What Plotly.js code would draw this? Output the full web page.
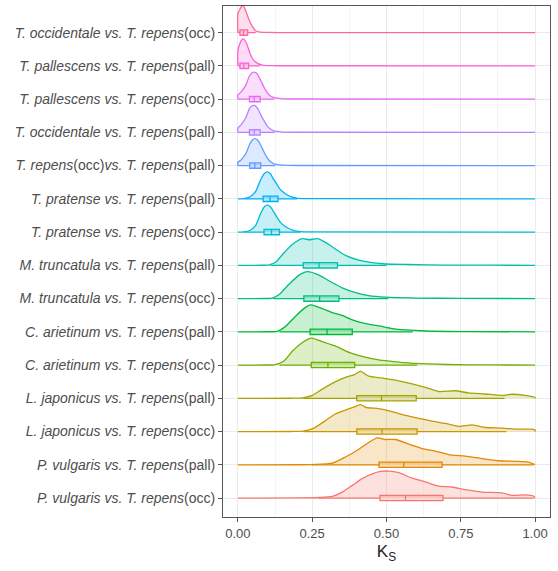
<!DOCTYPE html>
<html>
<head>
<meta charset="utf-8">
<script src="https://cdn.plot.ly/plotly-3.0.1.min.js"></script>
<style>html,body{margin:0;padding:0;background:#fff;}#chart{width:558px;height:571px;}</style>
</head>
<body>
<div id="chart"></div>
<script>
// Categories, bottom (y=1) to top (y=15)
const categories = [
  "<i>P. vulgaris vs. T. repens</i>(occ)",
  "<i>P. vulgaris vs. T. repens</i>(pall)",
  "<i>L. japonicus vs. T. repens</i>(occ)",
  "<i>L. japonicus vs. T. repens</i>(pall)",
  "<i>C. arietinum vs. T. repens</i>(occ)",
  "<i>C. arietinum vs. T. repens</i>(pall)",
  "<i>M. truncatula vs. T. repens</i>(occ)",
  "<i>M. truncatula vs. T. repens</i>(pall)",
  "<i>T. pratense vs. T. repens</i>(occ)",
  "<i>T. pratense vs. T. repens</i>(pall)",
  "<i>T. repens</i>(occ)<i>vs. T. repens</i>(pall)",
  "<i>T. occidentale vs. T. repens</i>(pall)",
  "<i>T. pallescens vs. T. repens</i>(occ)",
  "<i>T. pallescens vs. T. repens</i>(pall)",
  "<i>T. occidentale vs. T. repens</i>(occ)"
];

const colors = ["#F8766D","#E58700","#C99800","#A3A500","#6BB100","#00BA38","#00BF7D","#00C0AF","#00BCD8","#00B0F6","#619CFF","#B983FF","#E76BF3","#FD61D1","#FF67A4"];

// Density curves (Ks grid and relative density), bottom to top
const ks1 = [0,0.2,0.273,0.318,0.351,0.385,0.418,0.452,0.48,0.508,0.541,0.586,0.631,0.676,0.72,0.765,0.821,0.888,0.922,0.966,0.995,1];
const dens1 = [0,0.003,0.02,0.06,0.22,0.47,0.72,0.9,0.99,1,0.94,0.74,0.6,0.44,0.41,0.31,0.22,0.19,0.1,0.12,0.07,0];
const ks2 = [0,0.2,0.251,0.318,0.362,0.407,0.44,0.469,0.497,0.53,0.575,0.62,0.664,0.709,0.765,0.821,0.877,0.933,0.978,0.995,1];
const dens2 = [0,0.002,0.01,0.06,0.29,0.58,0.83,1,0.94,0.94,0.77,0.6,0.51,0.38,0.32,0.23,0.15,0.13,0.1,0.03,0];
const ks3 = [0,0.18,0.22,0.256,0.29,0.329,0.374,0.39,0.413,0.43,0.474,0.519,0.564,0.608,0.653,0.698,0.743,0.788,0.832,0.888,0.944,0.989,1,1];
const dens3 = [0,0.003,0.02,0.13,0.37,0.66,0.85,0.91,1,0.9,0.85,0.74,0.6,0.49,0.39,0.3,0.19,0.25,0.15,0.13,0.09,0.09,0.05,0];
const ks4 = [0,0.18,0.217,0.251,0.284,0.329,0.362,0.39,0.413,0.44,0.486,0.541,0.586,0.631,0.676,0.732,0.776,0.832,0.888,0.922,0.966,1,1];
const dens4 = [0,0.003,0.02,0.11,0.34,0.62,0.78,0.87,1,0.82,0.75,0.65,0.54,0.41,0.25,0.28,0.2,0.16,0.11,0.15,0.11,0.03,0];
const ks5 = [0,0.1,0.125,0.155,0.184,0.217,0.248,0.284,0.329,0.374,0.418,0.474,0.541,0.597,0.7,0.85,1];
const dens5 = [0,0.002,0.02,0.15,0.52,0.84,1,0.87,0.7,0.47,0.32,0.19,0.11,0.06,0.02,0.005,0];
const ks6 = [0,0.1,0.133,0.161,0.195,0.223,0.245,0.284,0.318,0.351,0.385,0.43,0.474,0.519,0.564,0.631,0.75,1];
const dens6 = [0,0.002,0.02,0.21,0.59,0.87,1,0.86,0.71,0.61,0.44,0.3,0.22,0.12,0.07,0.03,0.01,0];
const ks7 = [0,0.09,0.116,0.139,0.172,0.206,0.234,0.273,0.306,0.351,0.396,0.44,0.497,0.6,0.75,1];
const dens7 = [0,0.002,0.02,0.15,0.53,0.87,1,0.87,0.66,0.4,0.22,0.11,0.05,0.02,0.006,0];
const ks8 = [0,0.08,0.105,0.128,0.15,0.184,0.217,0.24,0.267,0.295,0.329,0.362,0.407,0.452,0.497,0.574,0.7,0.85,1];
const dens8 = [0,0.002,0.02,0.12,0.4,0.78,0.99,0.95,0.99,0.85,0.6,0.37,0.19,0.1,0.05,0.03,0.01,0.005,0];
const ks9 = [0,0.02,0.04,0.06,0.077,0.09,0.1,0.11,0.118,0.13,0.142,0.155,0.168,0.19,0.21,0.25,1];
const dens9 = [0,0.01,0.06,0.25,0.7,0.95,1,0.93,0.8,0.58,0.38,0.24,0.15,0.05,0.02,0.005,0];
const ks10 = [0,0.02,0.04,0.06,0.077,0.09,0.1,0.11,0.116,0.128,0.139,0.15,0.161,0.183,0.2,0.25,1];
const dens10 = [0,0.01,0.07,0.28,0.72,0.95,1,0.92,0.8,0.6,0.4,0.27,0.18,0.06,0.02,0.005,0];
const ks11 = [0,0,0.01,0.027,0.04,0.049,0.057,0.066,0.074,0.082,0.09,0.099,0.108,0.125,0.15,0.2,1];
const dens11 = [0,0.12,0.2,0.45,0.8,0.95,1,0.95,0.82,0.64,0.46,0.29,0.16,0.05,0.015,0.003,0];
const ks12 = [0,0,0.01,0.027,0.038,0.045,0.053,0.062,0.07,0.078,0.087,0.096,0.105,0.122,0.15,0.2,1];
const dens12 = [0,0.16,0.27,0.55,0.86,0.97,1,0.95,0.82,0.63,0.45,0.28,0.16,0.05,0.01,0.003,0];
const ks13 = [0,0,0.01,0.027,0.038,0.047,0.055,0.064,0.072,0.08,0.088,0.097,0.105,0.122,0.15,0.2,1];
const dens13 = [0,0.15,0.25,0.52,0.84,0.97,1,0.95,0.8,0.62,0.44,0.27,0.15,0.05,0.01,0.003,0];
const ks14 = [0,0,0.006,0.012,0.018,0.029,0.04,0.051,0.066,0.083,0.11,0.15,1];
const dens14 = [0,0.55,0.8,0.95,1,0.84,0.49,0.24,0.09,0.03,0.01,0.003,0];
const ks15 = [0,0,0.006,0.012,0.018,0.027,0.038,0.049,0.06,0.075,0.1,0.15,1];
const dens15 = [0,0.7,0.85,0.96,1,0.79,0.47,0.22,0.07,0.02,0.006,0.002,0];

// Box plot statistics, bottom to top
const boxLow    = [0.27,0.25,0.22,0.22,0.14,0.14,0.12,0.11,0.02,0.02,0,0,0,0,0];
const boxQ1     = [0.478,0.475,0.40,0.40,0.247,0.243,0.222,0.22,0.088,0.085,0.040,0.039,0.039,0.007,0.007];
const boxMedian = [0.564,0.558,0.485,0.483,0.303,0.300,0.275,0.273,0.113,0.108,0.057,0.055,0.055,0.020,0.019];
const boxQ3     = [0.690,0.687,0.603,0.600,0.393,0.385,0.340,0.335,0.140,0.135,0.077,0.075,0.075,0.036,0.033];
const boxHigh   = [0.995,0.995,0.903,0.897,0.603,0.588,0.506,0.500,0.210,0.200,0.125,0.124,0.122,0.074,0.060];

const ksGrids = [ks1,ks2,ks3,ks4,ks5,ks6,ks7,ks8,ks9,ks10,ks11,ks12,ks13,ks14,ks15];
const densities = [dens1,dens2,dens3,dens4,dens5,dens6,dens7,dens8,dens9,dens10,dens11,dens12,dens13,dens14,dens15];

const SCALE = 0.81;
function rgba(hex, a){
  const r=parseInt(hex.slice(1,3),16), g=parseInt(hex.slice(3,5),16), b=parseInt(hex.slice(5,7),16);
  return `rgba(${r},${g},${b},${a})`;
}
function blend(hex, t){
  const r=parseInt(hex.slice(1,3),16), g=parseInt(hex.slice(3,5),16), b=parseInt(hex.slice(5,7),16);
  const m=v=>Math.round(255-(255-v)*t);
  return `rgb(${m(r)},${m(g)},${m(b)})`;
}

const traces = [];
for (let i = categories.length-1; i >= 0; i--) {
  const pos = i+1;
  const xs = ksGrids[i];
  traces.push({
    type:'scatter', mode:'lines', x: xs, y: xs.map(()=>pos),
    line:{width:0, color:colors[i]}, hoverinfo:'skip', showlegend:false
  });
  traces.push({
    type:'scatter', mode:'lines', x: xs, y: densities[i].map(d=>pos + SCALE*d),
    line:{width:1.3, color:colors[i], shape:'spline', smoothing:0.6},
    fill:'tonexty', fillcolor: rgba(colors[i],0.22),
    hoverinfo:'skip', showlegend:false
  });
}
for (let i = 0; i < categories.length; i++) {
  traces.push({
    type:'box', orientation:'h', y:[i+1],
    q1:[boxQ1[i]], median:[boxMedian[i]], q3:[boxQ3[i]],
    lowerfence:[boxLow[i]], upperfence:[boxHigh[i]],
    width:0.16, whiskerwidth:0,
    line:{color:colors[i], width:1.3},
    fillcolor: blend(colors[i],0.3),
    hoverinfo:'skip', showlegend:false
  });
}

const layout = {
  width:558, height:571,
  margin:{l:223, r:8, t:6, b:54},
  paper_bgcolor:'#fff', plot_bgcolor:'#fff',
  showlegend:false,
  boxmode:'overlay',
  font:{family:'"Liberation Sans", Arial, sans-serif', color:'#4D4D4D'},
  xaxis:{
    range:[-0.05,1.05], tickvals:[0,0.25,0.5,0.75,1], ticktext:['0.00','0.25','0.50','0.75','1.00'],
    ticks:'outside', ticklen:4, tickcolor:'#555', tickfont:{size:13, color:'#4D4D4D'},
    showgrid:true, gridcolor:'#EBEBEB', gridwidth:1, zeroline:false,
    minor:{tick0:0.125, dtick:0.25, showgrid:true, gridcolor:'#F4F4F4', gridwidth:1},
    showline:true, mirror:true, linecolor:'#555', linewidth:1,
    title:{text:'K<sub>S</sub>', font:{size:17, color:'#222'}, standoff:5}
  },
  yaxis:{
    range:[0.43,15.8], tickvals:categories.map((c,i)=>i+1), ticktext:categories,
    ticks:'outside', ticklen:4, tickcolor:'#555', tickfont:{size:14, color:'#4D4D4D'},
    showgrid:true, gridcolor:'#EBEBEB', gridwidth:1, zeroline:false,
    showline:true, mirror:true, linecolor:'#555', linewidth:1
  }
};

Plotly.newPlot('chart', traces, layout, {displayModeBar:false, staticPlot:true});
</script>
</body>
</html>
